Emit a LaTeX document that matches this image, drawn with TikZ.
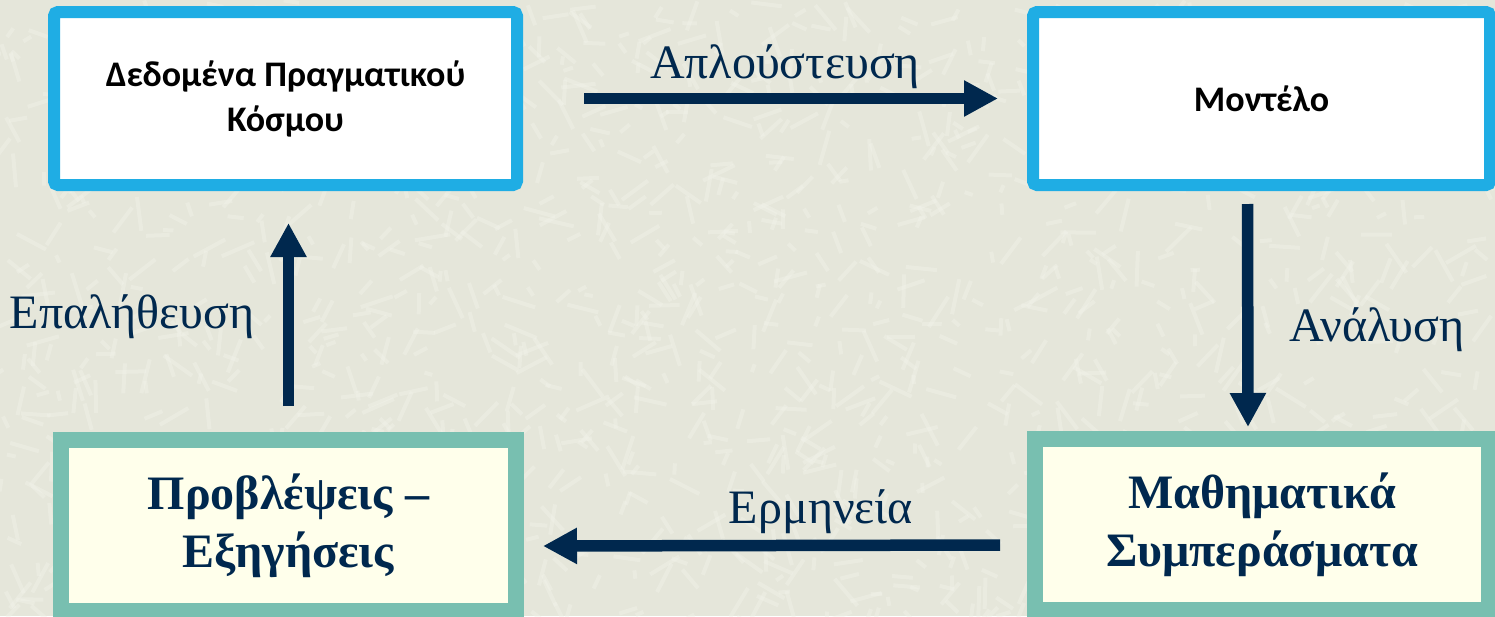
\documentclass[tikz,border=0pt]{standalone}
\usepackage{fontspec}
\setmainfont{Liberation Serif}
\newfontfamily\boxsans{Carlito}
\usetikzlibrary{arrows.meta}
\definecolor{bgc}{RGB}{229,230,218}
\definecolor{bgl}{RGB}{241,242,233}
\definecolor{skyb}{RGB}{31,173,228}
\definecolor{tealb}{RGB}{120,191,176}
\definecolor{creamf}{RGB}{255,255,235}
\definecolor{navy}{RGB}{0,40,78}
\tikzset{
  topbox/.style={draw=skyb, line width=12pt, fill=white, rounded corners=4pt,
    minimum width=#1, minimum height=173pt, inner sep=0pt, align=center,
    font=\boxsans\bfseries\fontsize{36}{45}\selectfont, text=black},
  botbox/.style={draw=tealb, line width=16pt, fill=creamf,
    minimum width=#1, minimum height=171pt, inner sep=0pt, align=center,
    font=\bfseries\fontsize{48}{58}\selectfont, text=navy},
  lbl/.style={font=\fontsize{48}{52}\selectfont, text=navy, anchor=base, inner sep=0pt},
  flow/.style={draw=navy, line width=11.5pt,
    -{Triangle[length=34pt,width=34pt]}}
}
\begin{document}
\begin{tikzpicture}[x=1pt,y=-1pt]
\fill[bgc] (0,0) rectangle (1495,616);
\useasboundingbox (0,0) rectangle (1495,616);
% background texture
\begin{scope}
\clip (0,0) rectangle (1495,616);
\pgfmathsetseed{7}
\foreach \i in {1,...,1400}{
  \pgfmathsetmacro{\px}{rnd*1495}
  \pgfmathsetmacro{\py}{rnd*616}
  \pgfmathsetmacro{\ang}{rnd*180}
  \pgfmathsetmacro{\len}{8+rnd*28}
  \draw[bgl, line width=4pt, opacity=0.45] (\px,\py) -- ++(\ang:\len);
}
\end{scope}
% boxes
\node[topbox=463pt] (tl) at (285.5,98.5) {Δεδομένα Πραγματικού\\Κόσμου};
\node[topbox=457pt] (tr) at (1261.5,98.5) {Μοντέλο};
\node[botbox=455pt] (bl) at (288.5,525.5) {Προβλέψεις –\\Εξηγήσεις};
\node[botbox=454pt] (br) at (1262,524.5) {Μαθηματικά\\Συμπεράσματα};
% connectors
\draw[flow] ([xshift=61pt]tl.east) -- ([xshift=-29pt]tr.west);
\draw[flow] ([xshift=-14pt,yshift=-13pt]tr.south) -- ([xshift=-14pt,yshift=4pt]br.north);
\draw[flow] ([xshift=-27pt,yshift=-20.5pt]br.west) -- ([xshift=19pt,yshift=-20.5pt]bl.east);
\draw[flow] ([yshift=26pt]bl.north) -- ([yshift=-32pt]bl.north |- tl.south);
% labels
\node[lbl] (l1) at (785,78) {Απλούστευση};
\node[lbl] (l2) at (1377,341) {Ανάλυση};
\node[lbl] (l3) at (821,523) {Ερμηνεία};
\node[lbl] (l4) at (132,328) {Επαλήθευση};
\end{tikzpicture}
\end{document}
